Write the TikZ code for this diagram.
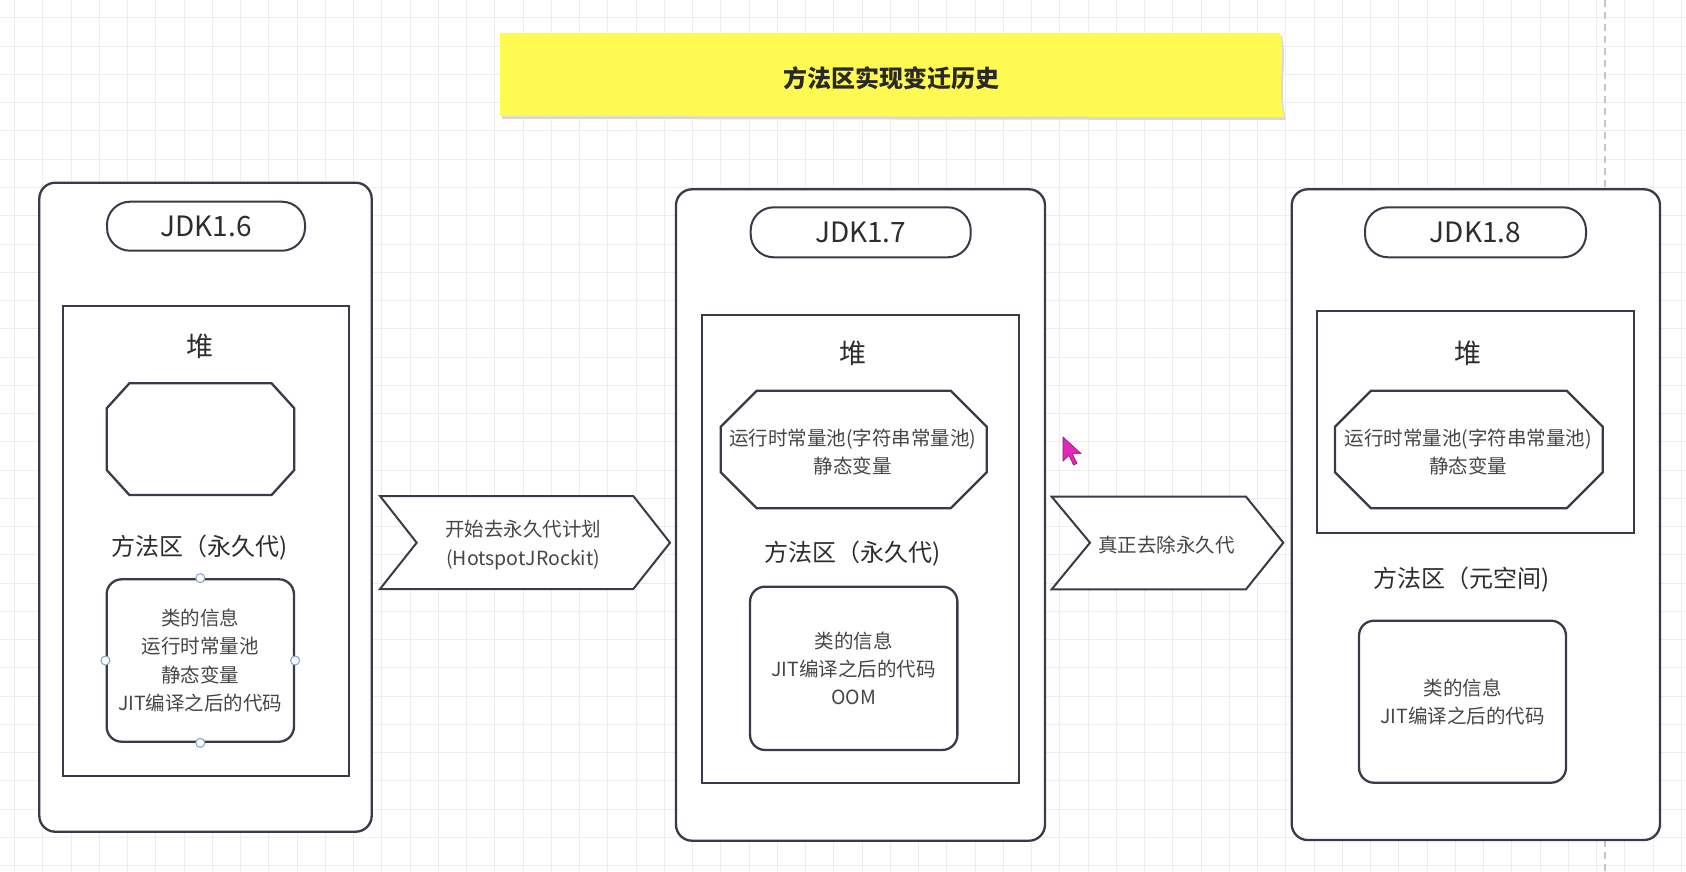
\documentclass[tikz,border=0pt]{standalone}
\usepackage{fontspec}
\setmainfont{Noto Sans CJK SC}
\definecolor{edge}{RGB}{58,58,72}
\definecolor{ink}{RGB}{45,45,45}
\definecolor{soft}{RGB}{70,70,70}
\definecolor{note}{RGB}{255,250,82}
\definecolor{gridc}{RGB}{237,237,240}
\definecolor{pick}{RGB}{130,160,215}
\definecolor{cursorc}{RGB}{225,40,185}
\tikzset{
  frame/.style={draw=edge, line width=2.3pt, fill=white},
  pill/.style={draw=edge, line width=2pt, fill=white, rounded corners=23pt, text=ink, font=\fontsize{28}{30}\selectfont},
  infobox/.style={draw=edge, line width=2.3pt, fill=white, rounded corners=15pt, align=center, text=soft, font=\fontsize{19.5}{28.3}\selectfont},
  heap/.style={text=ink, font=\fontsize{27}{30}\selectfont},
  area/.style={text=ink, font=\fontsize{24}{28}\selectfont},
  small/.style={text=soft, align=center, font=\fontsize{19.5}{28.3}\selectfont},
  handle/.style={draw=pick, fill=white, line width=1pt},
}
\begin{document}
\begin{tikzpicture}[x=1pt,y=-1pt]
            \useasboundingbox (0,0) rectangle (1686,872);
            \fill[white] (0,0) rectangle (1686,872);
            \foreach \i in {0,...,59} \draw[gridc, line width=1pt] (14.5+\i*28.25,0) -- (14.5+\i*28.25,872);
            \foreach \i in {0,...,30} \draw[gridc, line width=1pt] (0,18+\i*28.25) -- (1686,18+\i*28.25);
            \draw[gray!45, line width=1.5pt, dash pattern=on 7pt off 5pt] (1605,0) -- (1605,872);
            \fill[black!15] (502,36) -- (1282,36) .. controls (1288,63) and (1278,88) .. (1286,120) -- (502,119) -- cycle;
            \fill[note] (500,33) -- (1280,33) .. controls (1286,60) and (1276,85) .. (1284,117) -- (500,116) -- cycle;
            \node[text=ink!90!black, font=\fontsize{24}{28}\selectfont\bfseries] (title) at (891,78) {方法区实现变迁历史};
            \draw[frame, rounded corners=16pt] (39.3,182.7) rectangle (371.7,831.7);
            \draw[frame, rounded corners=16pt] (676,189.3) rectangle (1045,840.7);
            \draw[frame, rounded corners=16pt] (1291.7,189.3) rectangle (1660,840);
            \node[pill, minimum width=198pt, minimum height=49pt] (v6) at (206,226.2) {JDK1.6};
            \node[pill, minimum width=220pt, minimum height=50pt] (v7) at (860.7,232.3) {JDK1.7};
            \node[pill, minimum width=221pt, minimum height=50pt] (v8) at (1475.5,232.3) {JDK1.8};
            \draw[frame] (63.3,305.7) rectangle (349,775.7);
            \draw[frame] (701.7,315) rectangle (1019,783.3);
            \draw[frame] (1317.3,311) rectangle (1634,533.3);
            \node[heap] (h6) at (200,346.7) {堆};
            \node[heap] (h7) at (852.7,353.3) {堆};
            \node[heap] (h8) at (1468.3,353.3) {堆};
            \draw[frame] (129.4,383.3) -- (271.6,383.3) -- (294.3,408.3) -- (294.3,470) -- (271.6,495) -- (129.4,495) -- (106.7,470) -- (106.7,408.3) -- cycle;
            \draw[frame] (756.7,390.7) -- (950.7,390.7) -- (986.7,426.7) -- (986.7,472.3) -- (950.7,508.3) -- (756.7,508.3) -- (720.7,472.3) -- (720.7,426.7) -- cycle;
            \draw[frame] (1371,390.7) -- (1566.7,390.7) -- (1602.7,426.7) -- (1602.7,472.3) -- (1566.7,508.3) -- (1371,508.3) -- (1335,472.3) -- (1335,426.7) -- cycle;
            \node[small] (pool7) at (852.7,452) {运行时常量池(字符串常量池)\\静态变量};
            \node[small] (pool8) at (1468.3,452) {运行时常量池(字符串常量池)\\静态变量};
            \node[area] (m6) at (200,548) {方法区（永久代)};
            \node[area] (m7) at (853,553.3) {方法区（永久代)};
            \node[area] (m8) at (1461.7,580) {方法区（元空间)};
            \node[infobox, minimum width=187.3pt, minimum height=162.4pt] (c6) at (200.3,660.5) {类的信息\\运行时常量池\\静态变量\\JIT编译之后的代码};
            \node[infobox, minimum width=207.3pt, minimum height=163.3pt] (c7) at (853.7,668.3) {类的信息\\JIT编译之后的代码\\OOM};
            \node[infobox, minimum width=207pt, minimum height=162pt] (c8) at (1462.5,701.7) {类的信息\\JIT编译之后的代码};
            \foreach \a in {north,south,east,west} \draw[handle] (c6.\a) circle (4.5pt);
            \draw[frame, line width=2pt] (380,496) -- (633.3,496) -- (670,542.7) -- (633.3,589) -- (380,589) -- (416.7,542.7) -- cycle;
            \draw[frame, line width=2pt] (1051.7,496.7) -- (1246,496.7) -- (1283.3,542.7) -- (1246,589.3) -- (1051.7,589.3) -- (1090,542.7) -- cycle;
            \node[small] (step1) at (523.3,545) {开始去永久代计划\\(HotspotJRockit)};
            \node[small] (step2) at (1166.7,545) {真正去除永久代};
            \draw[fill=cursorc, draw=cursorc!60!black, line width=0.6pt] (1063,437) -- (1063,461) -- (1069,455.5) -- (1073.5,465) -- (1077,463.5) -- (1072.5,454) -- (1081,453.5) -- cycle;
        \end{tikzpicture}
\end{document}
